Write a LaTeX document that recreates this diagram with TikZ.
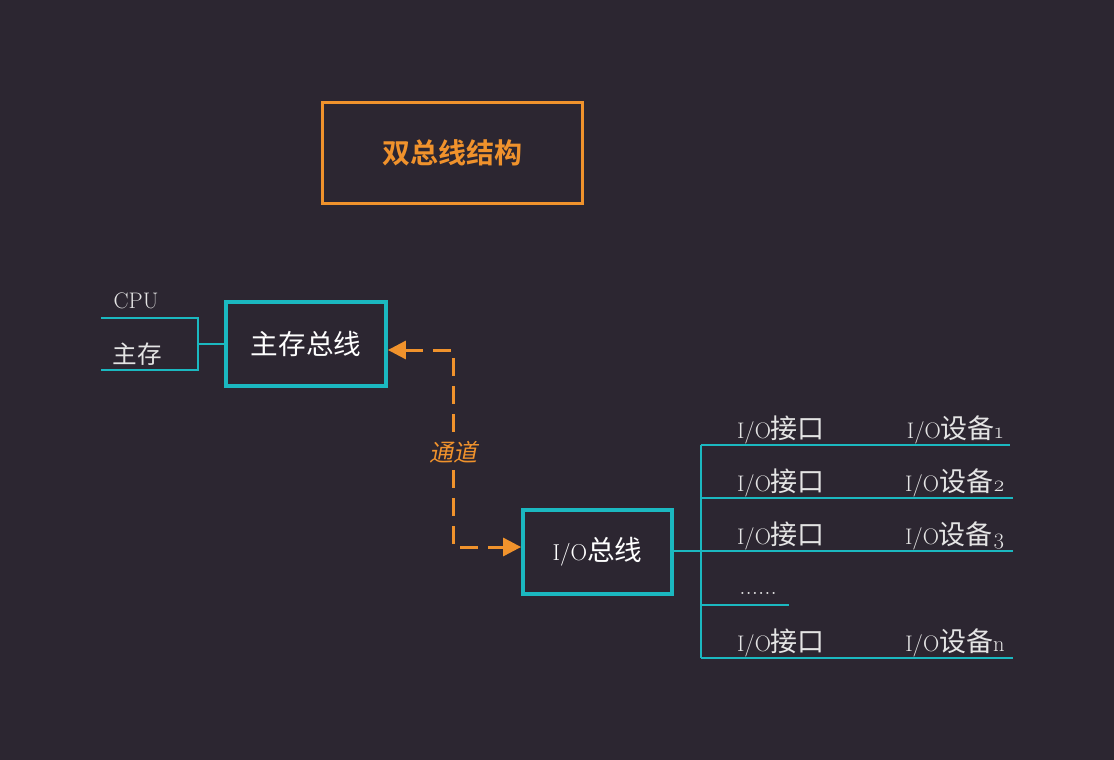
\documentclass[tikz,border=0pt]{standalone}
\usepackage{fontspec}
\setmainfont{Latin Modern Roman}[Numbers=OldStyle]
\newfontfamily\cjk{Noto Sans CJK SC}[Scale=1.2]
\newfontfamily\cjkbold{Noto Sans CJK SC Bold}
\newfontfamily\cjkslant{Noto Sans CJK SC}[FakeSlant=0.2]
\usetikzlibrary{arrows.meta}
\definecolor{bg}{HTML}{2C2631}
\definecolor{teal}{HTML}{1BB8C0}
\definecolor{amber}{HTML}{F0922C}
\definecolor{ink}{HTML}{E4E4E4}
\newcommand\zh[1]{{\cjk #1}}
\tikzset{
  busbox/.style={draw=teal, line width=3.8pt, text=white, inner sep=0pt,
    font=\fontsize{23}{26}\selectfont},
  titlebox/.style={draw=amber, line width=3pt, inner sep=0pt,
    text=amber, font=\cjkbold\fontsize{28}{30}\selectfont},
  wire/.style={draw=teal, line width=2pt},
  lbl/.style={text=ink, inner sep=0pt, font=\fontsize{22.5}{24}\selectfont},
  channel/.style={draw=amber, line width=3pt, dash pattern=on 18pt off 10pt,
    {Triangle[length=18pt,width=18pt]}-{Triangle[length=18pt,width=18pt]}},
}
\begin{document}
\begin{tikzpicture}[x=1pt, y=-1pt]
\fill[bg] (0,0) rectangle (1114,760);
\useasboundingbox (0,0) rectangle (1114,760);

% title
\node[titlebox, minimum width=260pt, minimum height=101pt] (title) at (452,152.5) {双总线结构};

% the two buses
\node[busbox, minimum width=160pt, minimum height=84pt] (mainbus) at (306,344) {\zh{主存总线}};
\node[busbox, minimum width=149pt, minimum height=84pt] (iobus) at (597.5,552) {I/O\zh{总线}};

% main-memory bus attachments
\coordinate (mj) at (198,344);
\coordinate (cpuend) at (101,318);
\coordinate (memend) at (101,370);
\draw[wire] (mainbus.west) -- (mj);
\draw[wire] (cpuend) -| (mj) |- (memend);
\node[lbl] (cpu) at (136,301) {CPU};
\node[lbl, font=\fontsize{20.5}{24}\selectfont] (mem) at (137,354) {\zh{主存}};

% channel between the buses
\coordinate (ca) at (453,350);
\coordinate (cb) at (453,547);
\draw[channel] (mainbus.east |- ca) -- (ca) -- (cb) -- (iobus.west |- cb);
\node[text=amber, fill=bg, inner sep=2pt, font=\cjkslant\fontsize{24}{26}\selectfont] (chan) at (453,452) {通道};

% I/O bus branches
\coordinate (ij) at (701,551);
\coordinate (itop) at (701,445);
\coordinate (ibot) at (701,658);
\coordinate (e1) at (1010,445);
\coordinate (e2) at (1013,498);
\coordinate (e3) at (1013,551);
\coordinate (e4) at (789,605);
\coordinate (e5) at (1013,658);
\draw[wire] (iobus.east |- ij) -- (ij);
\draw[wire] (itop) -- (ibot);
\draw[wire] (itop) -- (e1);
\draw[wire] (itop |- e2) -- (e2);
\draw[wire] (ij) -- (e3);
\draw[wire] (itop |- e4) -- (e4);
\draw[wire] (ibot) -- (e5);

\node[lbl] (if1) at (781,430) {I/O\zh{接口}};
\node[lbl] (if2) at (781,483) {I/O\zh{接口}};
\node[lbl] (if3) at (781,536) {I/O\zh{接口}};
\node[lbl, font=\fontsize{25}{26}\selectfont] (dots) at (758,593) {......};
\node[lbl] (ifn) at (781,643) {I/O\zh{接口}};
\node[lbl] (d1) at (955,430) {I/O\zh{设备}1};
\node[lbl] (d2) at (955,483) {I/O\zh{设备}2};
\node[lbl] (d3) at (955,536) {I/O\zh{设备}3};
\node[lbl] (dn) at (955,643) {I/O\zh{设备}n};
\end{tikzpicture}
\end{document}
